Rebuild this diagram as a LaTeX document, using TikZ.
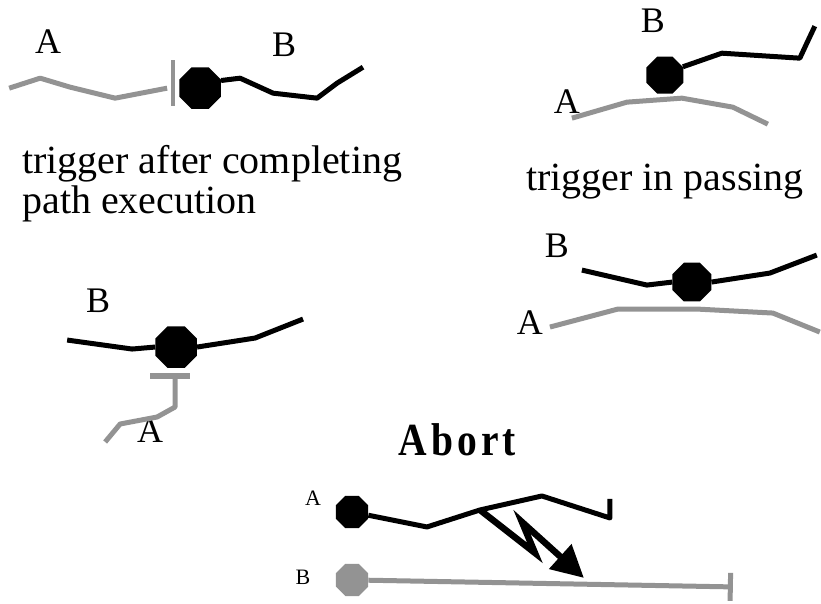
\documentclass[tikz,border=0pt]{standalone}
\usepackage{fontspec}
\setmainfont{Liberation Serif}
\usepackage{tikz}
\usetikzlibrary{shapes.geometric,arrows.meta}

\tikzset{
    pathA/.style={line width=5pt, color=gray!85, line join=round},
    pathB/.style={line width=5pt, color=black, line join=round},
    robot/.style={regular polygon, regular polygon sides=8, fill=black, draw=none, inner sep=0pt, minimum size=#1},
    robot/.default=44pt,
    stopper/.style={line width=4.5pt, color=gray!85},
    bolt/.style={line width=6.5pt, line join=miter, -{Triangle[length=32pt, width=32pt]}},
    lbl/.style={font=\fontsize{36}{36}\selectfont, inner sep=0pt},
    small lbl/.style={font=\fontsize{22}{22}\selectfont, inner sep=0pt},
    caption/.style={font=\fontsize{40}{40}\selectfont, inner sep=0pt, align=left}
}

\begin{document}
\begin{tikzpicture}[x=1pt, y=-1pt]
    \draw[use as bounding box, transparent] (0,0) rectangle (821,603);

    % AFTER COMPLETION (top left)
    \node[robot=45pt] (r1) at (200,88) {};
    \node[lbl] (a1) at (48,41) {A};
    \node[lbl] (b1) at (284,45) {B};
    \draw[pathA] (9,88) -- (40,78) -- (70,87) -- (115,98) -- (167,88);
    \draw[stopper] (173,60) -- (173,106);                                  % A stops here
    \draw[pathB] (r1.20) -- (240,78) -- (273,93) -- (317,98) -- (337,83) -- (363,67);
    \node[caption, anchor=base west] (c1) at (22,213) {trigger after completing\\path execution};

    % IN PASSING (top right)
    \node[robot=40pt] (r2) at (665,75) {};
    \node[lbl] (b2) at (653,21) {B};
    \node[lbl] (a2) at (567,101) {A};
    \draw[pathA] (572,118) -- (627,102) -- (682,98) -- (733,107) -- (768,124);
    \draw[pathB] (r2.25) -- (722,53) -- (800,58) -- (807,43) -- (815,26);
    \node[caption, anchor=base] (c2) at (665,190) {trigger in passing};

    % A WAITS BELOW B (middle left)
    \node[robot=45pt] (r3) at (176,347) {};
    \node[lbl] (b3) at (98,301) {B};
    \node[lbl] (a3) at (150,431) {A};
    \draw[pathB] (67,340) -- (132,349) -- (r3.west);
    \draw[pathB] (r3.east) -- (255,338) -- (303,319);
    \draw[stopper, line width=5.5pt] (150,376) -- (190,376);               % A stops here
    \draw[pathA] (175,377) -- (175,407) -- (157,417) -- (120,424) -- (105,442);

    % B CROSSES OVER A (middle right)
    \node[robot=42pt] (r4) at (692,282) {};
    \node[lbl] (b4) at (557,246) {B};
    \node[lbl] (a4) at (530,323) {A};
    \draw[pathB] (582,270) -- (647,285) -- (r4.west);
    \draw[pathB] (r4.east) -- (770,273) -- (817,255);
    \draw[pathA] (550,327) -- (618,309) -- (697,309) -- (773,313) -- (820,332);

    % ABORT (bottom)
    \node[font=\bfseries\fontsize{46}{46}\selectfont, inner sep=0pt, xscale=0.86, anchor=base] (abort) at (457,456)
        {A\kern5pt b\kern5pt o\kern5pt r\kern4pt t};
    \node[robot=35pt] (r5) at (352,512) {};
    \node[robot=35pt, fill=gray!85] (g5) at (352,580) {};
    \node[small lbl] (a5) at (313,498) {A};
    \node[small lbl] (b5) at (303,577) {B};
    \coordinate (hit) at (480,510);
    \draw[pathB, line width=5pt] (r5) -- (427,527) -- (hit) -- (542,496) -- (610,518) -- (610,499);
    \draw[pathA, -{Bar[width=28pt]}] (g5) -- (733,587);
    \draw[bolt] (hit) -- (535,553) -- (522,522) -- (584,578);               % abort signal

\end{tikzpicture}
\end{document}
